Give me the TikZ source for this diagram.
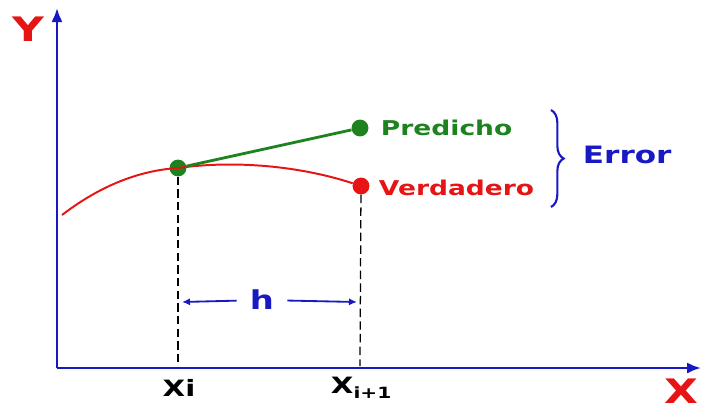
\documentclass[tikz,border=0pt]{standalone}
\usepackage{fontspec}
\setmainfont{DejaVu Sans}[FakeStretch=1.3]
\usetikzlibrary{arrows.meta, positioning, decorations.pathreplacing}
\definecolor{ejeazul}{RGB}{25, 25, 195}
\definecolor{verde}{RGB}{30, 130, 30}
\definecolor{rojo}{RGB}{230, 20, 20}

\begin{document}
\begin{tikzpicture}[x=0.025cm, y=-0.025cm, font=\bfseries,
        punto/.style={circle, inner sep=0pt, minimum size=12pt},
        eje/.style={-{Latex[length=3.5mm, width=2.8mm]}, line width=1.8pt, ejeazul},
        guia/.style={dash pattern=on 6pt off 3pt, line width=0.9pt},
        etiqueta/.style={anchor=west, font=\fontsize{14.5}{16}\selectfont\bfseries},
        grande/.style={font=\fontsize{24}{26}\selectfont\bfseries}
    ]
        \useasboundingbox (0,0) rectangle (701,410);
        % ejes
        \coordinate (o) at (57,368);
        \coordinate (ytop) at (57,8);
        \coordinate (xend) at (701,368);
        \draw[eje] (o) -- (ytop);
        \draw[eje] (o) -- (xend);
        \node[rojo, grande] (ylab) at (28,29) {Y};
        \node[rojo, grande, inner sep=0pt] (xlab) at (681,391) {X};
        % puntos
        \node[punto, fill=verde] (p0) at (178,168) {};
        \node[punto, fill=verde] (p1) at (360,128) {};
        \node[punto, fill=rojo] (v1) at (361,186) {};
        \coordinate (c0) at (62,215);
        \draw[rojo, line width=1.4pt] (c0) .. controls (105,182) and (145,170) .. (p0.center)
            .. controls (235,160) and (300,166) .. (v1);
        \draw[verde, line width=2pt] (p0) -- (p1);
        \node[etiqueta, verde] (pred) at (376,128) {Predicho};
        \node[etiqueta, rojo] (verd) at (374,188) {Verdadero};
        % guias
        \coordinate (g0) at (178,366);
        \coordinate (g1) at (360,366);
        \draw[guia] (p0) -- (g0);
        \draw[guia] (v1) -- (g1);
        \node[font=\fontsize{16}{18}\selectfont\bfseries] (xi) at (179,388) {Xi};
        \node[anchor=west, font=\fontsize{16}{18}\selectfont\bfseries] (xi1) at (326,388)
            {X\raisebox{-0.45ex}{\fontsize{11}{12}\selectfont i+1}};
        % h
        \node[ejeazul, font=\fontsize{18.5}{20}\selectfont\bfseries] (h) at (262,300) {h};
        \coordinate (h0) at (182,302);
        \coordinate (h1) at (357,302);
        \foreach \a/\b in {h/h0, h/h1}
            \draw[-{Latex[length=2mm, width=1.8mm]}, line width=1.3pt, ejeazul, shorten <=6pt] (\a) -- (\b);
        % error
        \coordinate (b0) at (551,207);
        \coordinate (b1) at (551,110);
        \draw[decorate, decoration={brace, amplitude=9pt}, line width=1.5pt, ejeazul] (b1) -- (b0);
        \node[ejeazul, anchor=west, font=\fontsize{17}{18}\selectfont\bfseries] (err) at (578,155) {Error};
    \end{tikzpicture}
\end{document}
